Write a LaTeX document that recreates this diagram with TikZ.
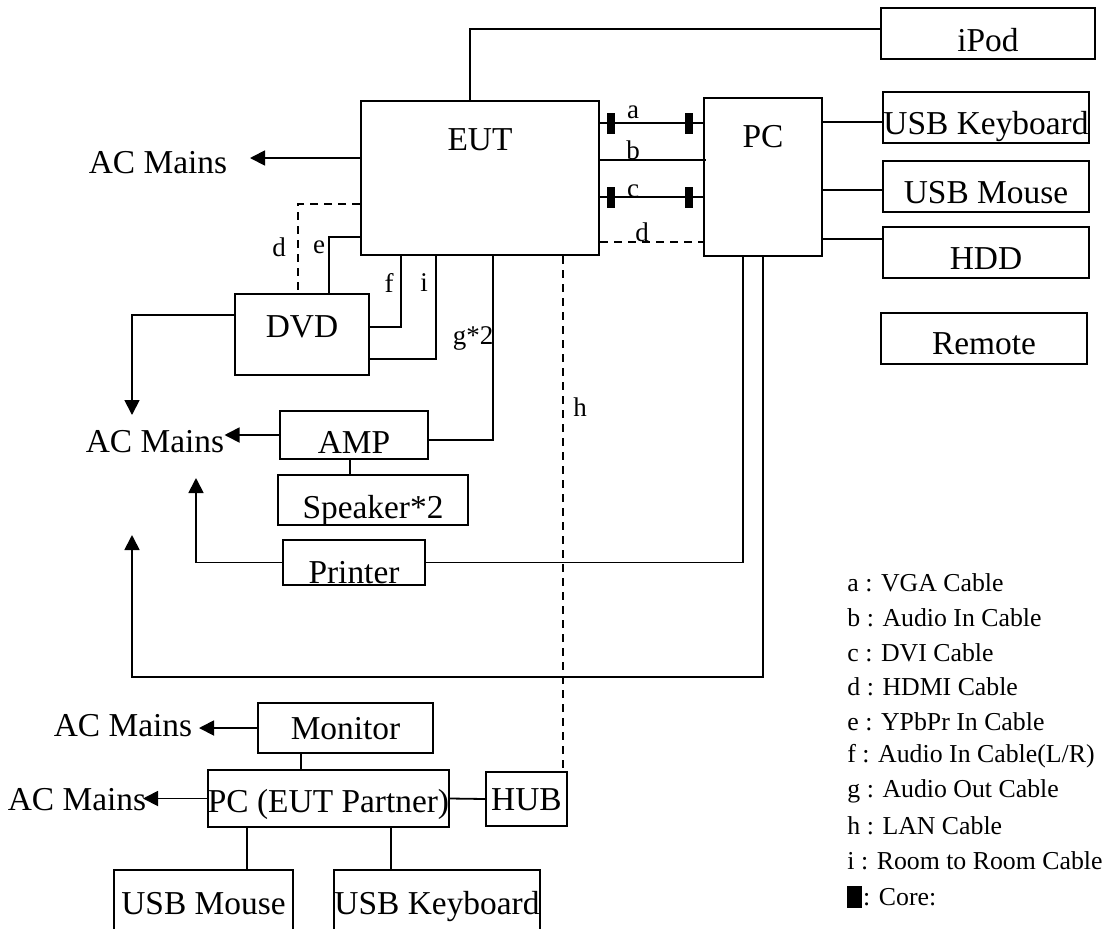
\documentclass[tikz,border=0pt]{standalone}
\usepackage{fontspec}
\setmainfont{Liberation Serif}
\usetikzlibrary{arrows.meta, calc}

\begin{document}
\begin{tikzpicture}[x=0.5pt, y=-0.5pt,
  box/.style={draw, line width=1pt, inner sep=0pt, text height=16.5pt, text depth=0pt,
              font=\fontsize{16.7}{19}\selectfont},
  txt/.style={inner sep=0pt, font=\fontsize{16.7}{19}\selectfont},
  lbl/.style={inner sep=0pt, font=\fontsize{13.5}{16}\selectfont},
  lgd/.style={anchor=west, inner sep=0pt, font=\fontsize{12.9}{15}\selectfont},
  wire/.style={line width=0.9pt},
  arr/.style={wire, -{Triangle[length=7.5pt, width=7.5pt]}},
  lan/.style={wire, dash pattern=on 4pt off 3pt},
  core/.style={fill=black, inner sep=0pt, minimum width=4.3pt, minimum height=10.5pt}
]
  \useasboundingbox (0,0) rectangle (1115,928);
  \clip (0,0) rectangle (1115,928);

  % main units
  \node[box, minimum width=119pt, minimum height=77pt] (eut) at (480,178) {};
  \node[txt] (eutname) at (480,140) {EUT};
  \node[box, minimum width=59pt, minimum height=79pt] (pc) at (763,177) {};
  \node[txt] (pcname) at (763,137) {PC};

  % PC side
  \node[box, minimum width=107pt, minimum height=25.5pt, text height=17.5pt] (ipod) at (988,33.5) {iPod};
  \node[box, minimum width=103pt, minimum height=25.5pt] (kbd)    at (986,117.5) {USB Keyboard};
  \node[box, minimum width=103pt, minimum height=25.5pt] (mouse)  at (986,186.5) {USB Mouse};
  \node[box, minimum width=103pt, minimum height=25.5pt] (hdd)    at (986,252.5) {HDD};
  \node[box, minimum width=103pt, minimum height=25.5pt, text height=15.5pt] (remote) at (984,338.5) {Remote};

  % EUT side
  \node[box, minimum width=67pt, minimum height=40.5pt, text height=3pt] (dvd) at (302,334.5) {DVD};
  \node[box, minimum width=74pt, minimum height=24pt, text height=18pt]   (amp) at (354,435) {AMP};
  \node[box, minimum width=95pt, minimum height=25pt, text height=18pt]   (spk) at (373,500) {Speaker*2};
  \node[box, minimum width=71pt, minimum height=22.5pt, text height=21pt] (printer) at (354,562.5) {Printer};

  % partner side
  \node[box, minimum width=87.5pt, minimum height=25pt, text height=11pt]    (monitor) at (345.5,728) {Monitor};
  \node[box, minimum width=120.5pt, minimum height=28.5pt, text height=14pt] (pcp) at (328.5,798.5) {PC (EUT Partner)};
  \node[box, minimum width=40.5pt, minimum height=27pt, text height=11pt]    (hub) at (526.5,799) {HUB};
  \node[box, minimum width=89.5pt, minimum height=33pt, text height=11pt]    (usbm) at (203.5,903) {USB Mouse};
  \node[box, minimum width=103pt, minimum height=33pt, text height=11pt]     (usbk) at (437,903) {USB Keyboard};

  % AC mains
  \node[txt] (acm1) at (158,163) {AC Mains};
  \node[txt] (acm2) at (155,442) {AC Mains};
  \node[txt] (acm3) at (123,726) {AC Mains};
  \node[txt] (acm4) at (77,800)  {AC Mains};
  \coordinate (tip1) at (250,158);
  \coordinate (tip2) at (132,415);
  \coordinate (tip3) at (196,478);
  \coordinate (tip4) at (132,535);
  \coordinate (bend) at (132,677);
  \coordinate (tip5) at (199,728);
  \coordinate (tip6) at (143,798.5);

  \draw[arr] (eut.west |- tip1) -- (tip1);
  \draw[arr] ($(dvd.west)+(0,-19.5)$) -| (tip2);
  \draw[arr] (amp.west) -- (amp.west -| acm2.east);
  \draw[arr] (printer.west) -| (tip3);
  \draw[arr] (pc.south) |- (bend) -- (tip4);
  \draw[arr] (monitor.west) -- (tip5);
  \draw[arr] (pcp.west) -- (tip6);

  % EUT to PC cables
  \draw[wire] ($(eut.east)+(0,-55)$) coordinate (a0) -- (pc.west |- a0);
  \draw[wire] ($(eut.east)+(0,-18)$) coordinate (b0) -- ([xshift=1.5pt]pc.west |- b0);
  \draw[wire] ($(eut.east)+(0,19)$) coordinate (c0) -- (pc.west |- c0);
  \draw[lan]  ($(eut.east)+(0,64)$) coordinate (d0) -- (pc.west |- d0);
  \node[core] (ca1) at (611,123) {};
  \node[core] (ca2) at (689,123) {};
  \node[core] (cc1) at (611,197) {};
  \node[core] (cc2) at (689,197) {};
  \node[lbl] (la) at (633,112) {a};
  \node[lbl] (lb) at (633,150) {b};
  \node[lbl] (lc) at (633,191) {c};
  \node[lbl] (ld) at (642,232) {d};

  % EUT to DVD, AMP, HUB
  \draw[lan]  ($(eut.west)+(0,26)$) -| ($(dvd.north)+(-4,0)$);
  \draw[wire] ($(eut.west)+(0,59)$) -| ($(dvd.north)+(27,0)$);
  \draw[wire] ($(eut.south)+(-79,0)$) |- ($(dvd.east)+(0,-7.5)$);
  \draw[wire] ($(eut.south)+(-44,0)$) |- ($(dvd.east)+(0,24.5)$);
  \draw[wire] ($(eut.south)+(13,0)$) |- ($(amp.east)+(0,5)$);
  \draw[lan]  ($(eut.south)+(83,0)$) coordinate (h0) -- (h0 |- hub.north);
  \node[lbl] (ldd) at (279,247) {d};
  \node[lbl] (le)  at (319,247) {e};
  \node[lbl] (lf)  at (389,283) {f};
  \node[lbl] (li)  at (424,283) {i};
  \node[lbl] (lg)  at (473,338) {g*2};
  \node[lbl] (lh)  at (580,407) {h};

  % other links
  \draw[wire] ($(eut.north)+(-10,0)$) |- ($(ipod.west)+(0,-4.5)$);
  \draw[wire] ($(pc.east)+(0,-55)$) coordinate (k0) -- (kbd.west |- k0);
  \draw[wire] ($(pc.east)+(0,13)$) coordinate (m1) -- (mouse.west |- m1);
  \draw[wire] ($(pc.east)+(0,62)$) coordinate (h1) -- (hdd.west |- h1);
  \draw[wire] (printer.east) -| ($(pc.south)+(-20,0)$);
  \draw[wire] ($(amp.south)+(-4,0)$) coordinate (s0) -- (s0 |- spk.north);
  \draw[wire] ($(monitor.south)+(-44.5,0)$) coordinate (m0) -- (m0 |- pcp.north);
  \draw[wire] (pcp.east) -- (hub.west);
  \draw[wire] ($(pcp.south)+(-81.5,0)$) coordinate (u0) -- (u0 |- usbm.north);
  \draw[wire] ($(pcp.south)+(62.5,0)$) coordinate (u1) -- (u1 |- usbk.north);

  % legend
  \node[lgd] (lga) at (847,583)   {a : VGA Cable};
  \node[lgd] (lgb) at (847,617.7) {b : Audio In Cable};
  \node[lgd] (lgc) at (847,652.4) {c : DVI Cable};
  \node[lgd] (lgd) at (847,687.1) {d : HDMI Cable};
  \node[lgd] (lge) at (847,721.8) {e : YPbPr In Cable};
  \node[lgd] (lgf) at (847,756.5) {f : Audio In Cable(L/R)};
  \node[lgd] (lgg) at (847,791.2) {g : Audio Out Cable};
  \node[lgd] (lgh) at (847,825.9) {h : LAN Cable};
  \node[lgd] (lgi) at (847,860.6) {i : Room to Room Cable};
  \node[core, minimum width=7.5pt, minimum height=11pt, anchor=west] (lgcore) at (847,897) {};
  \node[lgd] (lgcoretxt) at (lgcore.east) {: Core:};
\end{tikzpicture}
\end{document}
